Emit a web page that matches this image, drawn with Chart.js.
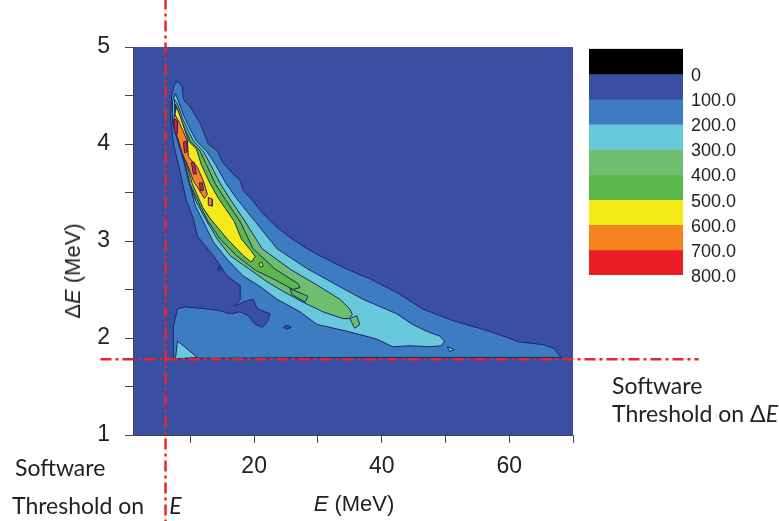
<!DOCTYPE html>
<html><head><meta charset="utf-8">
<script src="https://cdn.jsdelivr.net/npm/chart.js@4.4.1/dist/chart.umd.min.js"></script>
<style>
html,body{margin:0;padding:0;background:#fff;}
#wrap{position:relative;width:779px;height:521px;overflow:hidden;}
#main{position:absolute;left:0;top:0;}
#bar{position:absolute;left:580px;top:30px;}
.t{position:absolute;font-family:Lato,'Open Sans',sans-serif;font-size:23px;color:#222;white-space:nowrap;line-height:1;transform:translateY(-50%);}
.ax{position:absolute;font-family:'Liberation Sans',Arial,sans-serif;font-size:22px;color:#222;white-space:nowrap;line-height:1;}
</style></head><body>
<div id="wrap">
<canvas id="main" width="779" height="521"></canvas>
<canvas id="bar" width="199" height="265"></canvas>
<div class="ax" style="left:73px;top:271px;transform:translate(-50%,-50%) rotate(-90deg);">Δ<i>E</i> (MeV)</div>
<div class="ax" style="left:354px;top:504px;transform:translate(-50%,-50%);"><i>E</i> (MeV)</div>
<div class="t" style="left:15px;top:467px;">Software</div>
<div class="t" style="left:12px;top:505px;">Threshold on<i style="margin-left:25px;">E</i></div>
<div class="t" style="left:612px;top:385px;">Software</div>
<div class="t" style="left:612px;top:413px;">Threshold on Δ<i>E</i></div>
</div>
<script>
// ---- data ----
const colorLevels = [-100, 0, 100, 200, 300, 400, 500, 600, 700, 800];
const levelTicks = [0, 100, 200, 300, 400, 500, 600, 700, 800];
const levelLabels = ['0', '100.0', '200.0', '300.0', '400.0', '500.0', '600.0', '700.0', '800.0'];
const levelColors = ['#000000', '#3a4fa2', '#3e7cc1', '#68c8dc', '#6dbe6e', '#5cb849', '#f3ea17', '#f5821f', '#ec1c24'];

const xTicks = [10, 20, 30, 40, 50, 60, 70];
const xLabeled = [20, 40, 60];
const yTicks = [1, 1.5, 2, 2.5, 3, 3.5, 4, 4.5, 5];

const eThreshold = 6.1;      // MeV
const dEThreshold = 1.78;    // MeV
const vLineSpan = [5.5, 0.1];
const hLineSpan = [-4.1, 89.7];

// contour regions: [E (MeV), dE (MeV)]
const c100 = [[7.97,4.65],[8.75,4.59],[8.91,4.46],[10.0,4.38],[11.56,4.21],[12.03,4.13],[12.81,4.0],[14.22,3.93],[15.0,3.82],[16.25,3.72],[17.81,3.62],[18.28,3.52],[19.84,3.41],[21.41,3.28],[23.59,3.14],[26.0,3.02],[28.28,2.92],[31.41,2.81],[34.53,2.71],[38.13,2.61],[42.34,2.47],[46.41,2.30],[51.09,2.18],[56.88,2.07],[61.56,1.96],[65.47,1.93],[67.03,1.89],[68.13,1.80],[40,1.80],[7.4,1.79],[7.34,2.12],[7.97,2.30],[9.22,2.32],[12.66,2.30],[14.69,2.28],[16.25,2.25],[17.81,2.27],[19.06,2.23],[20.16,2.14],[21.25,2.11],[22.03,2.16],[22.5,2.25],[20.47,2.30],[19.84,2.40],[18.28,2.37],[17.03,2.33],[17.81,2.40],[17.81,2.54],[15.78,2.64],[13.59,2.85],[11.09,3.05],[10.47,3.23],[9.3,3.43],[8.3,3.74],[7.35,4.0],[6.9,4.26],[7.03,4.48],[7.4,4.6],[7.97,4.65]];
const dark1 = [[24.6,2.11],[25.16,2.13],[25.8,2.11],[25.16,2.09],[24.6,2.11]];
const dark2 = [[14.3,2.72],[14.6,2.74],[14.8,2.71],[14.5,2.69],[14.3,2.72]];
const c200 = [[7.66,4.52],[8.13,4.44],[8.91,4.30],[9.53,4.21],[10.94,4.03],[12.5,3.93],[13.91,3.79],[15.63,3.59],[17.34,3.43],[20.16,3.2],[23.59,2.92],[28.44,2.71],[33.13,2.54],[37.03,2.40],[42.34,2.25],[44.84,2.14],[47.03,2.07],[49.06,2.02],[49.84,1.97],[49.38,1.92],[47.5,1.91],[44.38,1.92],[41.72,1.91],[40.78,1.94],[39.22,1.99],[34.53,2.07],[29.84,2.14],[27.19,2.27],[23.59,2.40],[20.94,2.53],[18.28,2.64],[15.78,2.81],[13.59,2.99],[12.03,3.20],[10.78,3.36],[10.16,3.52],[9.22,3.76],[8.13,4.0],[7.19,4.21],[7.19,4.44],[7.66,4.52]];
const c200b = [[7.97,1.97],[11.09,1.80],[7.66,1.785],[7.97,1.97]];
const c200c = [[50.31,1.91],[51.41,1.88],[50.63,1.86],[50.31,1.91]];
const c300 = [[7.5,4.46],[7.97,4.41],[8.91,4.24],[10.47,4.03],[12.0,3.93],[13.13,3.79],[14.69,3.59],[16.25,3.43],[18.59,3.2],[21.25,2.92],[25.63,2.71],[30.0,2.54],[33.44,2.40],[35.0,2.30],[35.4,2.24],[34.8,2.20],[33.91,2.20],[30.78,2.27],[27.66,2.37],[24.84,2.47],[22.03,2.58],[19.22,2.71],[16.25,2.85],[14.22,3.02],[12.34,3.23],[10.94,3.40],[9.69,3.62],[8.75,3.90],[7.66,4.13],[7.5,4.38],[7.5,4.46]];
const c300b = [[35.0,2.20],[36.09,2.23],[36.56,2.14],[35.78,2.10],[35.0,2.20]];
const c400 = [[7.66,4.41],[8.59,4.24],[10.0,4.03],[11.5,3.93],[12.5,3.79],[13.91,3.59],[15.47,3.43],[17.81,3.2],[19.84,2.92],[23.28,2.71],[26.88,2.56],[27.19,2.52],[26.09,2.50],[23.28,2.60],[20.16,2.70],[17.19,2.85],[14.69,3.02],[12.8,3.2],[11.6,3.35],[9.9,3.59],[9.1,3.82],[8.2,4.03],[7.6,4.28],[7.66,4.41]];
const c400b = [[25.63,2.51],[28.44,2.43],[28.0,2.37],[25.9,2.45],[25.63,2.51]];
const c500 = [[7.81,4.38],[8.1,4.34],[9.7,4.03],[10.94,3.95],[11.7,3.79],[13.1,3.59],[14.5,3.43],[16.9,3.2],[18.0,3.02],[19.5,2.90],[20.16,2.84],[19.7,2.79],[19.38,2.79],[18.28,2.85],[15.78,3.02],[13.13,3.23],[11.9,3.35],[10.3,3.59],[9.3,3.82],[8.3,4.03],[7.5,4.28],[7.81,4.38]];
const c500b = [[20.78,2.77],[21.25,2.78],[21.41,2.74],[20.94,2.73],[20.78,2.77]];
const c600 = [[7.5,4.31],[8.13,4.24],[9.53,4.03],[9.69,3.87],[11.09,3.76],[12.03,3.62],[12.66,3.48],[12.19,3.44],[10.47,3.62],[9.69,3.76],[8.75,3.90],[7.97,4.07],[7.34,4.21],[7.5,4.31]];
const c600b = [[12.81,3.45],[13.44,3.43],[13.44,3.36],[12.81,3.37],[12.81,3.45]];
const c700a = [[7.5,4.26],[7.97,4.24],[7.97,4.11],[7.5,4.12],[7.5,4.26]];
const c700b = [[8.91,4.02],[9.38,4.03],[9.53,3.92],[9.06,3.91],[8.91,4.02]];
const c700c = [[10.16,3.81],[10.63,3.81],[10.94,3.69],[10.47,3.69],[10.16,3.81]];
const c700d = [[11.41,3.60],[11.88,3.60],[12.03,3.52],[11.56,3.52],[11.41,3.60]];

// ---- build ----
const pts = a => a.map(([x, y]) => ({x, y}));
const lineColor = '#1d2566';
function region(data, color, order) {
  return {data: pts(data), showLine: true, fill: 'shape', backgroundColor: color,
    borderColor: lineColor, borderWidth: 1, pointRadius: 0, pointHoverRadius: 0, tension: 0, order};
}
const redDash = {showLine: true, fill: false, borderColor: '#e8262b', borderWidth: 2.5,
  borderDash: [11, 4, 3, 4], pointRadius: 0, clip: false, order: 0};

const datasets = [
  region(c100, levelColors[2], 8),
  region(dark1, levelColors[1], 7), region(dark2, levelColors[1], 7),
  region(c200, levelColors[3], 6), region(c200b, levelColors[3], 6), region(c200c, levelColors[3], 6),
  region(c300, levelColors[4], 5), region(c300b, levelColors[4], 5),
  region(c400, levelColors[5], 4), region(c400b, levelColors[5], 4),
  region(c500, levelColors[6], 3), region(c500b, levelColors[6], 3),
  region(c600, levelColors[7], 2), region(c600b, levelColors[7], 2),
  region(c700a, levelColors[8], 1), region(c700b, levelColors[8], 1),
  region(c700c, levelColors[8], 1), region(c700d, levelColors[8], 1),
  Object.assign({data: [{x: eThreshold, y: vLineSpan[0]}, {x: eThreshold, y: vLineSpan[1]}]}, redDash),
  Object.assign({data: [{x: hLineSpan[0], y: dEThreshold}, {x: hLineSpan[1], y: dEThreshold}]}, redDash)
];

const areaBg = {
  id: 'areaBg',
  beforeDraw(chart) {
    const {ctx, chartArea: a} = chart;
    ctx.save(); ctx.fillStyle = levelColors[1];
    ctx.fillRect(a.left, a.top, a.right - a.left, a.bottom - a.top);
    ctx.restore();
  }
};

const tickFont = {family: "'Liberation Sans', Arial, sans-serif", size: 23};

new Chart(document.getElementById('main'), {
  type: 'scatter',
  data: {datasets},
  plugins: [areaBg],
  options: {
    responsive: false, animation: false, events: [],
    layout: {padding: {left: 0, top: 47, right: 206, bottom: 0}},
    plugins: {legend: {display: false}, tooltip: {enabled: false}},
    scales: {
      x: {
        type: 'linear', min: 1, max: 70,
        afterBuildTicks: s => { s.ticks = xTicks.map(v => ({value: v})); },
        afterFit: s => { s.height = 86; },
        ticks: {callback: v => xLabeled.includes(v) ? String(v) : '', font: tickFont, color: '#222',
          padding: 10, maxRotation: 0, autoSkip: false},
        grid: {drawOnChartArea: false, drawTicks: true, tickLength: 8, color: '#444'},
        border: {display: true, color: '#444', width: 1}
      },
      y: {
        type: 'linear', min: 1, max: 5,
        afterBuildTicks: s => { s.ticks = yTicks.map(v => ({value: v})); },
        afterFit: s => { s.width = 133; },
        ticks: {callback: v => Number.isInteger(v) ? String(v) : '', font: tickFont, color: '#222',
          padding: 15, autoSkip: false},
        grid: {drawOnChartArea: false, drawTicks: true, tickLength: 8, color: '#444'},
        border: {display: true, color: '#444', width: 1}
      }
    }
  }
});

// colour bar
const barSets = levelColors.map((c, i) => ({
  data: [[colorLevels[i], colorLevels[i + 1]]], backgroundColor: c, borderWidth: 0,
  grouped: false, barPercentage: 1, categoryPercentage: 1
}));
new Chart(document.getElementById('bar'), {
  type: 'bar',
  data: {labels: [''], datasets: barSets},
  options: {
    responsive: false, animation: false, events: [],
    layout: {padding: {left: 9, top: 17, right: 0, bottom: 20}},
    plugins: {legend: {display: false}, tooltip: {enabled: false}},
    scales: {
      x: {display: false},
      y: {
        position: 'right', min: colorLevels[0], max: colorLevels[colorLevels.length - 1], reverse: true,
        afterBuildTicks: s => { s.ticks = levelTicks.map(v => ({value: v})); },
        afterFit: s => { s.width = 96; },
        ticks: {callback: (v, i) => levelLabels[i], font: {family: "'Liberation Sans', Arial, sans-serif", size: 18},
          color: '#222', padding: 8, labelOffset: 2, autoSkip: false},
        grid: {display: false, drawTicks: false},
        border: {display: false}
      }
    }
  }
});
</script>
</body></html>
